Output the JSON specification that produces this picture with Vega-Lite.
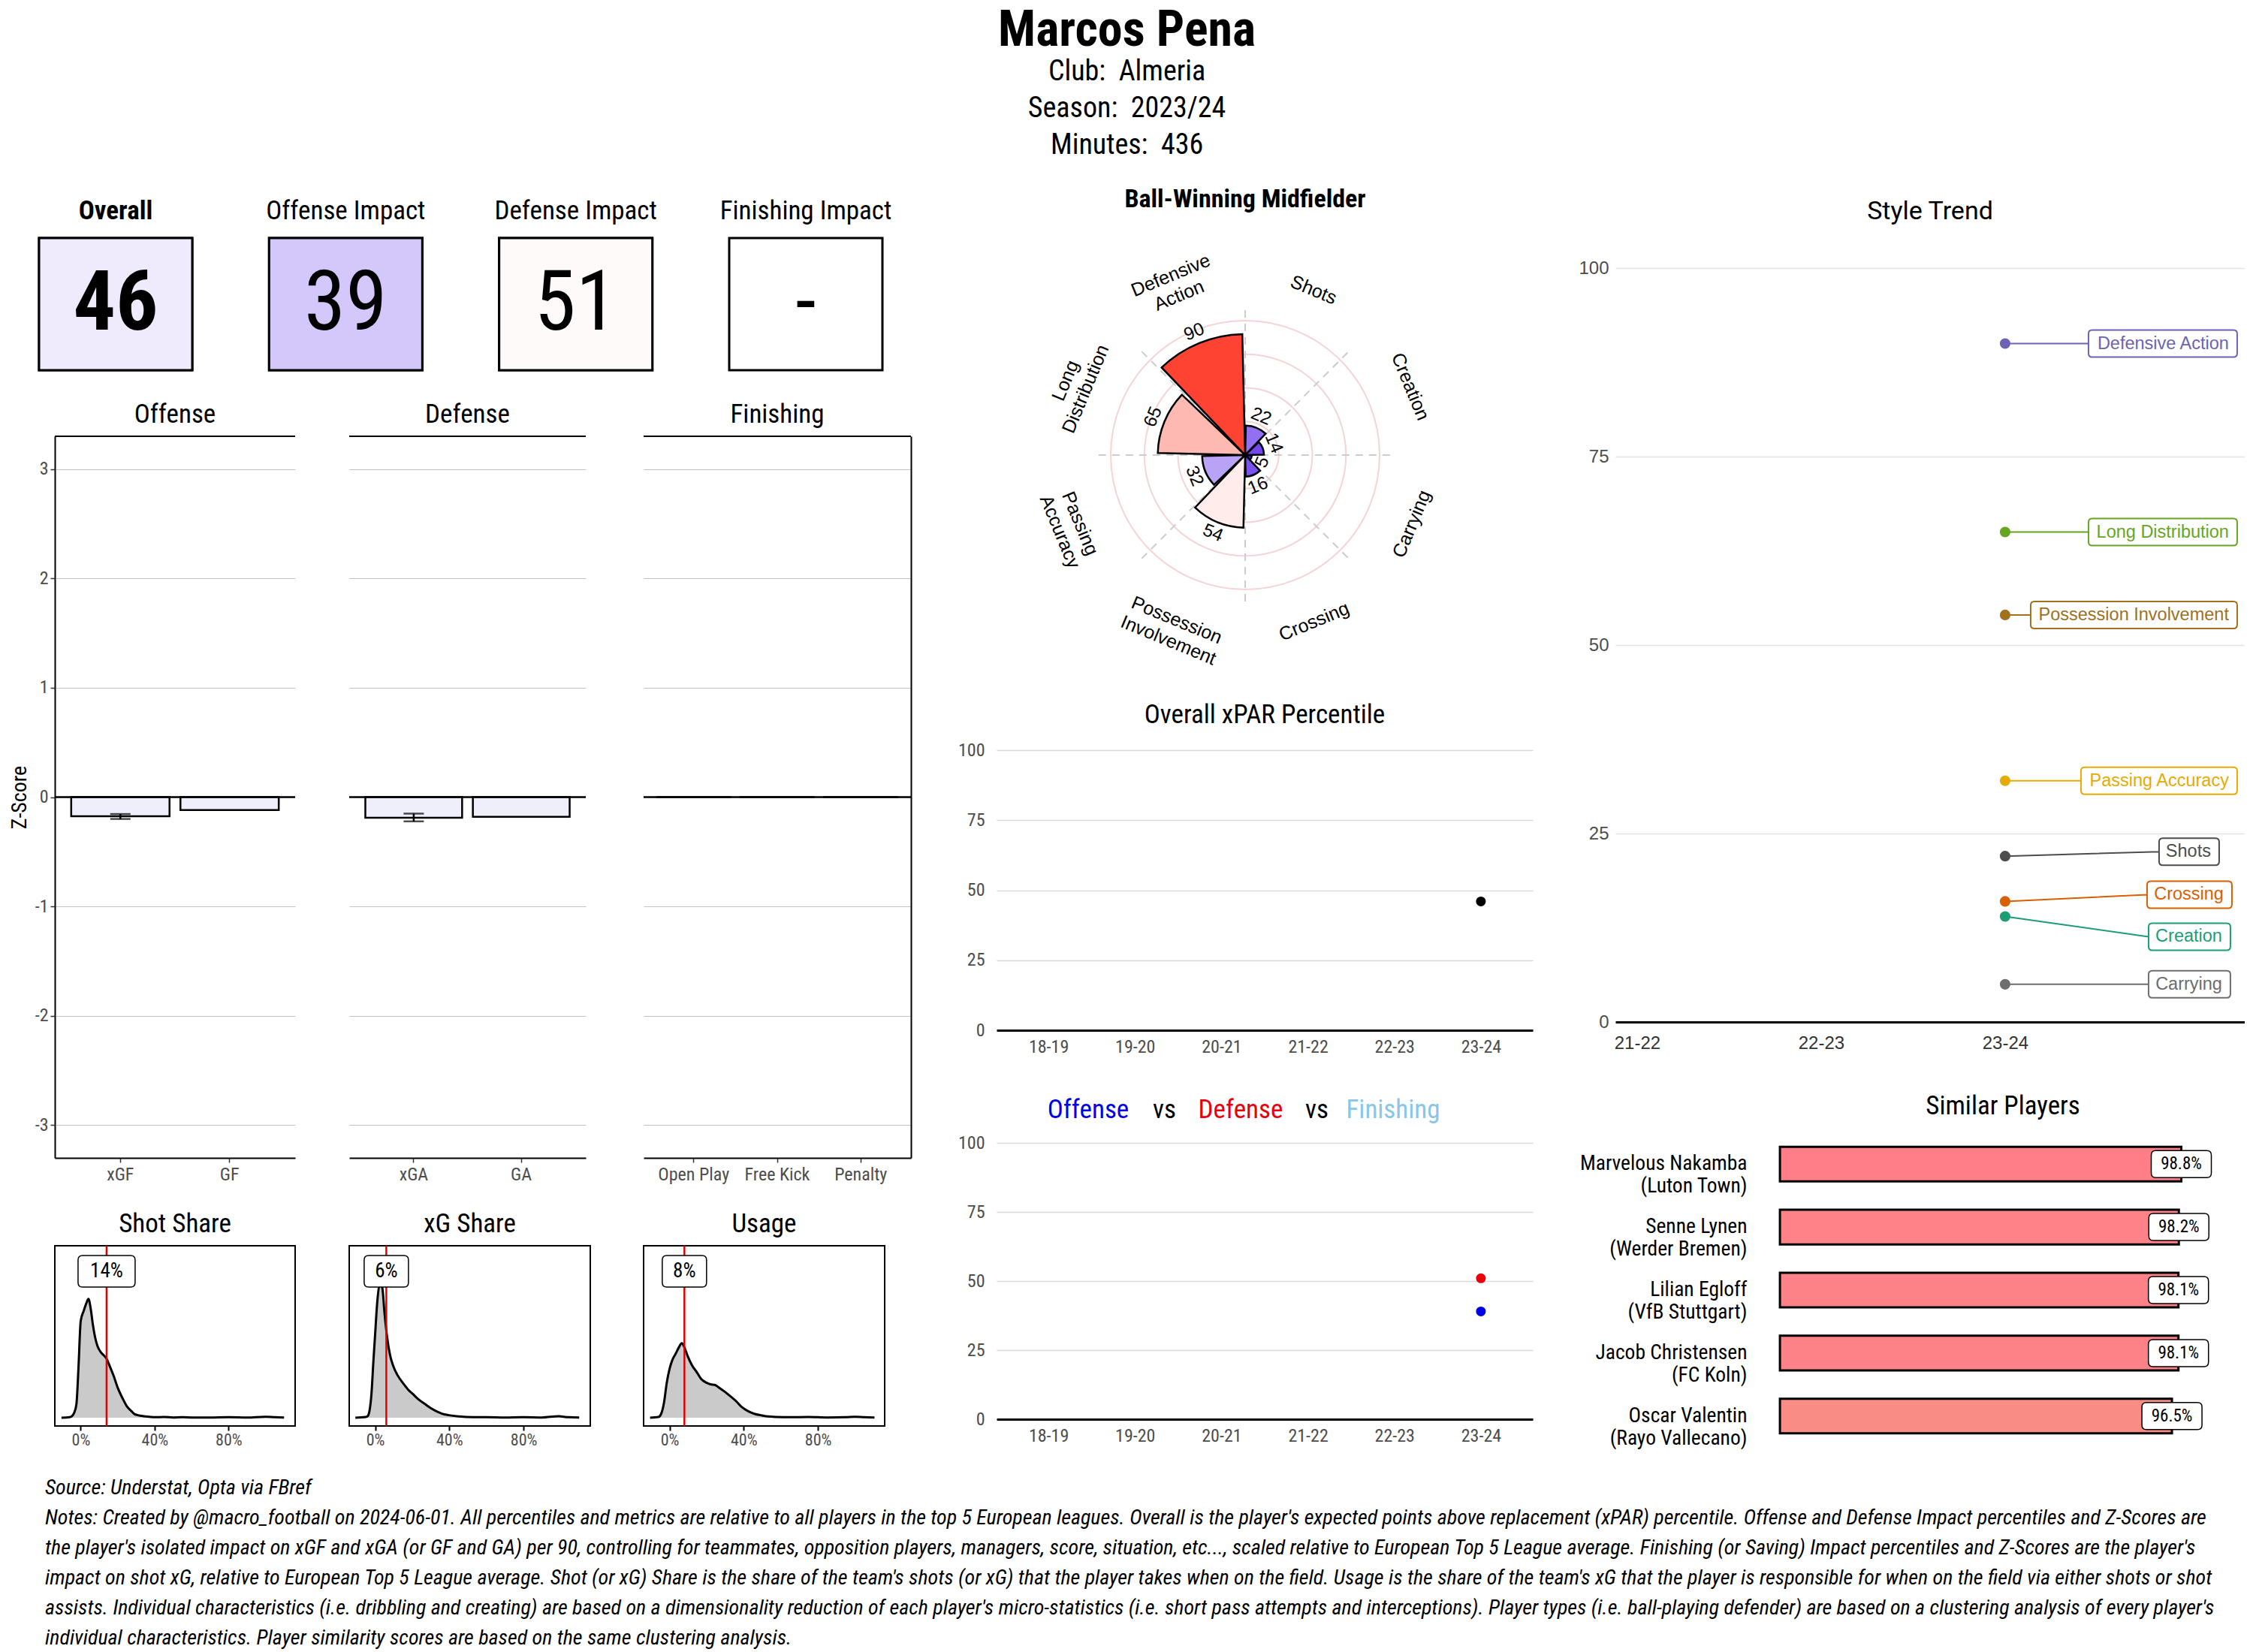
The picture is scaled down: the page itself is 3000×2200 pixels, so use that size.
{
"$schema": "https://vega.github.io/schema/vega-lite/v6.json",
"background": "white",
"padding": {"left": 12, "top": 8, "right": 0, "bottom": 0},
"config": {
  "view": {"stroke": null},
  "font": "Roboto Condensed, Roboto",
  "axis": {"labelFont": "Roboto Condensed, Roboto", "titleFont": "Roboto Condensed, Roboto", "labelColor": "#4d4d4d", "titleColor": "black", "titleFontWeight": "normal", "labelLimit": 0},
  "title": {"font": "Roboto Condensed, Roboto", "fontWeight": "normal", "color": "black", "subtitleFont": "Roboto Condensed, Roboto", "subtitleColor": "black"},
  "text": {"font": "Roboto Condensed, Roboto", "color": "black"}
},
"title": {"text": "Marcos Pena", "subtitle": ["Club:\u00a0 Almeria", "Season:\u00a0 2023/24", "Minutes:\u00a0 436"], "anchor": "middle", "fontSize": 66, "fontWeight": "bold", "subtitleFontSize": 38, "subtitleLineHeight": 49, "subtitlePadding": 2, "offset": 35},
"datasets": {
  "kpi": [
    {"metric": "Overall", "pct": 46, "display": "46"},
    {"metric": "Offense Impact", "pct": 39, "display": "39"},
    {"metric": "Defense Impact", "pct": 51, "display": "51"},
    {"metric": "Finishing Impact", "pct": null, "display": "-"}
  ],
  "zscore": [
    {"panel": "Offense", "stat": "xGF", "z": -0.175, "lo": -0.2, "hi": -0.155},
    {"panel": "Offense", "stat": "GF", "z": -0.118},
    {"panel": "Defense", "stat": "xGA", "z": -0.189, "lo": -0.222, "hi": -0.151},
    {"panel": "Defense", "stat": "GA", "z": -0.18},
    {"panel": "Finishing", "stat": "Open Play", "z": 0},
    {"panel": "Finishing", "stat": "Free Kick", "z": 0},
    {"panel": "Finishing", "stat": "Penalty", "z": 0}
  ],
  "density": [
    {"panel": "Shot Share", "x": -0.104, "d": 0}, {"panel": "Shot Share", "x": -0.06, "d": 2}, {"panel": "Shot Share", "x": -0.049, "d": 5}, {"panel": "Shot Share", "x": -0.035, "d": 20}, {"panel": "Shot Share", "x": -0.023, "d": 55}, {"panel": "Shot Share", "x": -0.012, "d": 200}, {"panel": "Shot Share", "x": 0, "d": 385}, {"panel": "Shot Share", "x": 0.016, "d": 425}, {"panel": "Shot Share", "x": 0.03, "d": 455}, {"panel": "Shot Share", "x": 0.042, "d": 473}, {"panel": "Shot Share", "x": 0.055, "d": 430}, {"panel": "Shot Share", "x": 0.065, "d": 375}, {"panel": "Shot Share", "x": 0.078, "d": 320}, {"panel": "Shot Share", "x": 0.091, "d": 285}, {"panel": "Shot Share", "x": 0.11, "d": 260}, {"panel": "Shot Share", "x": 0.125, "d": 248}, {"panel": "Shot Share", "x": 0.14, "d": 235}, {"panel": "Shot Share", "x": 0.16, "d": 200}, {"panel": "Shot Share", "x": 0.179, "d": 165}, {"panel": "Shot Share", "x": 0.2, "d": 120}, {"panel": "Shot Share", "x": 0.228, "d": 75}, {"panel": "Shot Share", "x": 0.25, "d": 45}, {"panel": "Shot Share", "x": 0.276, "d": 25}, {"panel": "Shot Share", "x": 0.29, "d": 15}, {"panel": "Shot Share", "x": 0.309, "d": 10}, {"panel": "Shot Share", "x": 0.34, "d": 6}, {"panel": "Shot Share", "x": 0.37, "d": 4}, {"panel": "Shot Share", "x": 0.4, "d": 2}, {"panel": "Shot Share", "x": 0.45, "d": 3}, {"panel": "Shot Share", "x": 0.5, "d": 1}, {"panel": "Shot Share", "x": 0.55, "d": 2}, {"panel": "Shot Share", "x": 0.6, "d": 1}, {"panel": "Shot Share", "x": 0.7, "d": 1}, {"panel": "Shot Share", "x": 0.8, "d": 2}, {"panel": "Shot Share", "x": 0.9, "d": 1}, {"panel": "Shot Share", "x": 1.0, "d": 4}, {"panel": "Shot Share", "x": 1.05, "d": 2}, {"panel": "Shot Share", "x": 1.1, "d": 1},
    {"panel": "xG Share", "x": -0.107, "d": 0}, {"panel": "xG Share", "x": -0.05, "d": 3}, {"panel": "xG Share", "x": -0.042, "d": 5}, {"panel": "xG Share", "x": -0.03, "d": 30}, {"panel": "xG Share", "x": -0.02, "d": 95}, {"panel": "xG Share", "x": -0.01, "d": 220}, {"panel": "xG Share", "x": 0, "d": 335}, {"panel": "xG Share", "x": 0.01, "d": 450}, {"panel": "xG Share", "x": 0.023, "d": 525}, {"panel": "xG Share", "x": 0.032, "d": 528}, {"panel": "xG Share", "x": 0.039, "d": 515}, {"panel": "xG Share", "x": 0.05, "d": 420}, {"panel": "xG Share", "x": 0.062, "d": 335}, {"panel": "xG Share", "x": 0.08, "d": 250}, {"panel": "xG Share", "x": 0.098, "d": 205}, {"panel": "xG Share", "x": 0.12, "d": 170}, {"panel": "xG Share", "x": 0.153, "d": 135}, {"panel": "xG Share", "x": 0.18, "d": 110}, {"panel": "xG Share", "x": 0.202, "d": 95}, {"panel": "xG Share", "x": 0.23, "d": 75}, {"panel": "xG Share", "x": 0.267, "d": 55}, {"panel": "xG Share", "x": 0.3, "d": 38}, {"panel": "xG Share", "x": 0.332, "d": 25}, {"panel": "xG Share", "x": 0.36, "d": 16}, {"panel": "xG Share", "x": 0.397, "d": 10}, {"panel": "xG Share", "x": 0.45, "d": 5}, {"panel": "xG Share", "x": 0.527, "d": 2}, {"panel": "xG Share", "x": 0.6, "d": 2}, {"panel": "xG Share", "x": 0.7, "d": 1}, {"panel": "xG Share", "x": 0.8, "d": 2}, {"panel": "xG Share", "x": 0.9, "d": 1}, {"panel": "xG Share", "x": 0.99, "d": 6}, {"panel": "xG Share", "x": 1.04, "d": 2}, {"panel": "xG Share", "x": 1.1, "d": 1},
    {"panel": "Usage", "x": -0.105, "d": 0}, {"panel": "Usage", "x": -0.06, "d": 3}, {"panel": "Usage", "x": -0.049, "d": 10}, {"panel": "Usage", "x": -0.03, "d": 60}, {"panel": "Usage", "x": -0.015, "d": 140}, {"panel": "Usage", "x": 0, "d": 195}, {"panel": "Usage", "x": 0.015, "d": 230}, {"panel": "Usage", "x": 0.033, "d": 255}, {"panel": "Usage", "x": 0.05, "d": 280}, {"panel": "Usage", "x": 0.066, "d": 297}, {"panel": "Usage", "x": 0.08, "d": 280}, {"panel": "Usage", "x": 0.098, "d": 245}, {"panel": "Usage", "x": 0.12, "d": 210}, {"panel": "Usage", "x": 0.148, "d": 180}, {"panel": "Usage", "x": 0.17, "d": 155}, {"panel": "Usage", "x": 0.197, "d": 140}, {"panel": "Usage", "x": 0.22, "d": 133}, {"panel": "Usage", "x": 0.246, "d": 130}, {"panel": "Usage", "x": 0.27, "d": 118}, {"panel": "Usage", "x": 0.295, "d": 105}, {"panel": "Usage", "x": 0.32, "d": 90}, {"panel": "Usage", "x": 0.36, "d": 65}, {"panel": "Usage", "x": 0.39, "d": 42}, {"panel": "Usage", "x": 0.426, "d": 25}, {"panel": "Usage", "x": 0.46, "d": 15}, {"panel": "Usage", "x": 0.492, "d": 10}, {"panel": "Usage", "x": 0.53, "d": 5}, {"panel": "Usage", "x": 0.574, "d": 3}, {"panel": "Usage", "x": 0.65, "d": 2}, {"panel": "Usage", "x": 0.75, "d": 3}, {"panel": "Usage", "x": 0.85, "d": 1}, {"panel": "Usage", "x": 0.95, "d": 2}, {"panel": "Usage", "x": 1.0, "d": 4}, {"panel": "Usage", "x": 1.05, "d": 2}, {"panel": "Usage", "x": 1.105, "d": 1}
  ],
  "shares": [
    {"panel": "Shot Share", "value": 0.14, "label": "14%"},
    {"panel": "xG Share", "value": 0.06, "label": "6%"},
    {"panel": "Usage", "value": 0.08, "label": "8%"}
  ],
  "style": [
    {"metric": "Shots", "value": 22, "label": "Shots", "season": "23-24"},
    {"metric": "Creation", "value": 14, "label": "Creation", "season": "23-24"},
    {"metric": "Carrying", "value": 5, "label": "Carrying", "season": "23-24"},
    {"metric": "Crossing", "value": 16, "label": "Crossing", "season": "23-24"},
    {"metric": "Possession Involvement", "value": 54, "label": "Possession\nInvolvement", "season": "23-24"},
    {"metric": "Passing Accuracy", "value": 32, "label": "Passing\nAccuracy", "season": "23-24"},
    {"metric": "Long Distribution", "value": 65, "label": "Long\nDistribution", "season": "23-24"},
    {"metric": "Defensive Action", "value": 90, "label": "Defensive\nAction", "season": "23-24"}
  ],
  "xpar": [{"season": "23-24", "pct": 46}],
  "ovd": [{"season": "23-24", "metric": "Offense", "pct": 39}, {"season": "23-24", "metric": "Defense", "pct": 51}],
  "titlewords": [{"word": "Offense"}, {"word": "vs"}, {"word": "Defense"}, {"word": "vs "}, {"word": "Finishing"}],
  "similar": [
    {"name": "Marvelous Nakamba|(Luton Town)", "sim": 0.988},
    {"name": "Senne Lynen|(Werder Bremen)", "sim": 0.982},
    {"name": "Lilian Egloff|(VfB Stuttgart)", "sim": 0.981},
    {"name": "Jacob Christensen|(FC Koln)", "sim": 0.981},
    {"name": "Oscar Valentin|(Rayo Vallecano)", "sim": 0.965}
  ],
  "notes": [
    {"line": "Source: Understat, Opta via FBref"},
    {"line": "Notes: Created by @macro_football on 2024-06-01. All percentiles and metrics are relative to all players in the top 5 European leagues. Overall is the player's expected points above replacement (xPAR) percentile. Offense and Defense Impact percentiles and Z-Scores are"},
    {"line": "the player's isolated impact on xGF and xGA (or GF and GA) per 90, controlling for teammates, opposition players, managers, score, situation, etc..., scaled relative to European Top 5 League average. Finishing (or Saving) Impact percentiles and Z-Scores are the player's"},
    {"line": "impact on shot xG, relative to European Top 5 League average. Shot (or xG) Share is the share of the team's shots (or xG) that the player takes when on the field. Usage is the share of the team's xG that the player is responsible for when on the field via either shots or shot"},
    {"line": "assists. Individual characteristics (i.e. dribbling and creating) are based on a dimensionality reduction of each player's micro-statistics (i.e. short pass attempts and interceptions). Player types (i.e. ball-playing defender) are based on a clustering analysis of every player's"},
    {"line": "individual characteristics. Player similarity scores are based on the same clustering analysis."}
  ]
},
"vconcat": [
{
"hconcat": [
{
  "vconcat": [
    {
      "width": 1131, "height": 176,
      "data": {"name": "kpi"},
      "encoding": {"x": {"field": "metric", "type": "nominal", "scale": {"domain": ["Overall", "Offense Impact", "Defense Impact", "Finishing Impact"], "range": [-21, 1102], "paddingInner": 0.334, "paddingOuter": 0}, "axis": {"orient": "top", "title": null, "ticks": false, "domain": false, "labelAngle": 0, "labelFontSize": 35, "labelColor": "black", "labelPadding": 19, "labelFontWeight": {"expr": "datum.value == 'Overall' ? 'bold' : 'normal'"}}}},
      "layer": [
        {"mark": {"type": "rect", "fill": "white", "stroke": "black", "strokeWidth": 3}, "encoding": {"y": {"datum": 0, "type": "quantitative", "scale": {"domain": [0, 1], "nice": false}, "axis": null}, "y2": {"datum": 1}}},
        {"transform": [{"filter": "isValid(datum.pct)"}], "mark": {"type": "rect", "stroke": "black", "strokeWidth": 3}, "encoding": {"y": {"datum": 0, "type": "quantitative"}, "y2": {"datum": 1}, "color": {"field": "pct", "type": "quantitative", "scale": {"domain": [0, 50, 100], "range": ["#3c00e6", "#ffffff", "#ff1400"], "interpolate": "rgb"}, "legend": null}}},
        {"transform": [{"filter": "datum.metric == 'Overall'"}], "mark": {"type": "text", "fontSize": 112, "fontWeight": "bold"}, "encoding": {"y": {"datum": 0.5, "type": "quantitative"}, "text": {"field": "display"}}},
        {"transform": [{"filter": "datum.metric != 'Overall'"}], "mark": {"type": "text", "fontSize": 112}, "encoding": {"y": {"datum": 0.5, "type": "quantitative"}, "text": {"field": "display"}}}
      ]
    },
    {
      "concat": [
        {
          "width": 320, "height": 961,
          "title": {"text": "Offense", "fontSize": 35, "offset": 10},
          "layer": [
            {"data": {"name": "zscore"}, "transform": [{"filter": "datum.panel == 'Offense'"}], "mark": {"type": "bar", "fill": "#efeffc", "stroke": "black", "strokeWidth": 2.5},
             "encoding": {"x": {"field": "stat", "type": "nominal", "scale": {"domain": ["xGF", "GF"], "paddingInner": 0.1, "paddingOuter": 0.15}, "axis": {"title": null, "labelAngle": 0, "labelFontSize": 24, "domainColor": "black", "domainWidth": 2, "tickColor": "#333333", "tickSize": 6, "tickWidth": 1.5, "labelPadding": 4}},
                          "y": {"field": "z", "type": "quantitative", "scale": {"domain": [-3.3, 3.3], "nice": false}, "axis": {"values": [-3, -2, -1, 0, 1, 2, 3], "labelExpr": "toString(datum.value)", "title": "Z-Score", "titleFontSize": 28, "titlePadding": 6, "labelFontSize": 24, "labelPadding": 3, "grid": true, "gridColor": "#c2c2c2", "gridWidth": 1.2, "domainColor": "black", "domainWidth": 2, "tickColor": "#333333", "tickSize": 6, "tickWidth": 1.5}}}},
            {"data": {"name": "zscore"}, "transform": [{"filter": "datum.panel == 'Offense' && isValid(datum.lo)"}], "mark": {"type": "rule", "color": "black", "strokeWidth": 2.5}, "encoding": {"x": {"field": "stat", "type": "nominal"}, "y": {"field": "lo", "type": "quantitative"}, "y2": {"field": "hi"}}},
            {"data": {"name": "zscore"}, "transform": [{"filter": "datum.panel == 'Offense' && isValid(datum.lo)"}], "mark": {"type": "tick", "color": "black", "thickness": 2.5, "size": 27}, "encoding": {"x": {"field": "stat", "type": "nominal"}, "y": {"field": "lo", "type": "quantitative"}}},
            {"data": {"name": "zscore"}, "transform": [{"filter": "datum.panel == 'Offense' && isValid(datum.lo)"}], "mark": {"type": "tick", "color": "black", "thickness": 2.5, "size": 27}, "encoding": {"x": {"field": "stat", "type": "nominal"}, "y": {"field": "hi", "type": "quantitative"}}},
            {"data": {"values": [{}]}, "mark": {"type": "rule", "color": "black", "strokeWidth": 2.5}, "encoding": {"y": {"datum": 0, "type": "quantitative"}}},
            {"data": {"values": [{}]}, "mark": {"type": "rule", "color": "black", "strokeWidth": 2}, "encoding": {"y": {"datum": 3.3, "type": "quantitative"}}}
          ]
        },
        {
          "width": 315, "height": 961,
          "title": {"text": "Defense", "fontSize": 35, "offset": 10},
          "layer": [
            {"data": {"name": "zscore"}, "transform": [{"filter": "datum.panel == 'Defense'"}], "mark": {"type": "bar", "fill": "#efeffc", "stroke": "black", "strokeWidth": 2.5},
             "encoding": {"x": {"field": "stat", "type": "nominal", "scale": {"domain": ["xGA", "GA"], "paddingInner": 0.1, "paddingOuter": 0.15}, "axis": {"title": null, "labelAngle": 0, "labelFontSize": 24, "domainColor": "black", "domainWidth": 2, "tickColor": "#333333", "tickSize": 6, "tickWidth": 1.5, "labelPadding": 4}},
                          "y": {"field": "z", "type": "quantitative", "scale": {"domain": [-3.3, 3.3], "nice": false}, "axis": {"values": [-3, -2, -1, 0, 1, 2, 3], "title": null, "labels": false, "ticks": false, "domain": false, "grid": true, "gridColor": "#c2c2c2", "gridWidth": 1.2}}}},
            {"data": {"name": "zscore"}, "transform": [{"filter": "datum.panel == 'Defense' && isValid(datum.lo)"}], "mark": {"type": "rule", "color": "black", "strokeWidth": 2.5}, "encoding": {"x": {"field": "stat", "type": "nominal"}, "y": {"field": "lo", "type": "quantitative"}, "y2": {"field": "hi"}}},
            {"data": {"name": "zscore"}, "transform": [{"filter": "datum.panel == 'Defense' && isValid(datum.lo)"}], "mark": {"type": "tick", "color": "black", "thickness": 2.5, "size": 27}, "encoding": {"x": {"field": "stat", "type": "nominal"}, "y": {"field": "lo", "type": "quantitative"}}},
            {"data": {"name": "zscore"}, "transform": [{"filter": "datum.panel == 'Defense' && isValid(datum.lo)"}], "mark": {"type": "tick", "color": "black", "thickness": 2.5, "size": 27}, "encoding": {"x": {"field": "stat", "type": "nominal"}, "y": {"field": "hi", "type": "quantitative"}}},
            {"data": {"values": [{}]}, "mark": {"type": "rule", "color": "black", "strokeWidth": 2.5}, "encoding": {"y": {"datum": 0, "type": "quantitative"}}},
            {"data": {"values": [{}]}, "mark": {"type": "rule", "color": "black", "strokeWidth": 2}, "encoding": {"y": {"datum": 3.3, "type": "quantitative"}}}
          ]
        },
        {
          "width": 356, "height": 961,
          "title": {"text": "Finishing", "fontSize": 35, "offset": 10},
          "layer": [
            {"data": {"name": "zscore"}, "transform": [{"filter": "datum.panel == 'Finishing'"}], "mark": {"type": "bar", "fill": "#efeffc", "stroke": "black", "strokeWidth": 2.5},
             "encoding": {"x": {"field": "stat", "type": "nominal", "scale": {"domain": ["Open Play", "Free Kick", "Penalty"], "paddingInner": 0.1, "paddingOuter": 0.15}, "axis": {"title": null, "labelAngle": 0, "labelFontSize": 24, "domainColor": "black", "domainWidth": 2, "tickColor": "#333333", "tickSize": 6, "tickWidth": 1.5, "labelPadding": 4}},
                          "y": {"field": "z", "type": "quantitative", "scale": {"domain": [-3.3, 3.3], "nice": false}, "axis": {"values": [-3, -2, -1, 0, 1, 2, 3], "orient": "right", "title": null, "labels": false, "ticks": false, "domain": true, "domainColor": "black", "domainWidth": 2, "grid": true, "gridColor": "#c2c2c2", "gridWidth": 1.2}}}},
            {"data": {"values": [{}]}, "mark": {"type": "rule", "color": "black", "strokeWidth": 2.5}, "encoding": {"y": {"datum": 0, "type": "quantitative"}}},
            {"data": {"values": [{}]}, "mark": {"type": "rule", "color": "black", "strokeWidth": 2}, "encoding": {"y": {"datum": 3.3, "type": "quantitative"}}}
          ]
        },
        {
          "width": 320, "height": 240,
          "title": {"text": "Shot Share", "fontSize": 35, "offset": 10},
          "view": {"stroke": "black", "strokeWidth": 2},
          "layer": [
            {"data": {"name": "density"}, "transform": [{"filter": "datum.panel == 'Shot Share'"}], "mark": {"type": "area", "fill": "#b3b3b3", "interpolate": "monotone", "line": {"color": "black", "strokeWidth": 3}},
             "encoding": {"x": {"field": "x", "type": "quantitative", "scale": {"domain": [-0.14, 1.16], "nice": false}, "axis": {"values": [0, 0.4, 0.8], "format": ".0%", "title": null, "labelFontSize": 22, "grid": false, "domain": false, "tickColor": "black", "tickSize": 6, "tickWidth": 2}},
                          "y": {"field": "d", "type": "quantitative", "scale": {"domain": [-33, 685], "nice": false}, "axis": null}}},
            {"data": {"name": "shares"}, "transform": [{"filter": "datum.panel == 'Shot Share'"}], "mark": {"type": "rule", "color": "#e00000", "strokeWidth": 2.5}, "encoding": {"x": {"field": "value", "type": "quantitative"}}},
            {"data": {"name": "shares"}, "transform": [{"filter": "datum.panel == 'Shot Share'"}], "mark": {"type": "point", "shape": "M-0.64,-0.42H0.64Q0.76,-0.42 0.76,-0.3V0.3Q0.76,0.42 0.64,0.42H-0.64Q-0.76,0.42 -0.76,0.3V-0.3Q-0.76,-0.42 -0.64,-0.42Z", "size": 10000, "filled": true, "fill": "white", "stroke": "black", "strokeWidth": 1.5, "opacity": 1}, "encoding": {"x": {"field": "value", "type": "quantitative"}, "y": {"datum": 583, "type": "quantitative"}}},
            {"data": {"name": "shares"}, "transform": [{"filter": "datum.panel == 'Shot Share'"}], "mark": {"type": "text", "fontSize": 27}, "encoding": {"x": {"field": "value", "type": "quantitative"}, "y": {"datum": 583, "type": "quantitative"}, "text": {"field": "label"}}}
          ]
        },
        {
          "width": 321, "height": 240,
          "title": {"text": "xG Share", "fontSize": 35, "offset": 10},
          "view": {"stroke": "black", "strokeWidth": 2},
          "layer": [
            {"data": {"name": "density"}, "transform": [{"filter": "datum.panel == 'xG Share'"}], "mark": {"type": "area", "fill": "#b3b3b3", "interpolate": "monotone", "line": {"color": "black", "strokeWidth": 3}},
             "encoding": {"x": {"field": "x", "type": "quantitative", "scale": {"domain": [-0.14, 1.16], "nice": false}, "axis": {"values": [0, 0.4, 0.8], "format": ".0%", "title": null, "labelFontSize": 22, "grid": false, "domain": false, "tickColor": "black", "tickSize": 6, "tickWidth": 2}},
                          "y": {"field": "d", "type": "quantitative", "scale": {"domain": [-33, 685], "nice": false}, "axis": null}}},
            {"data": {"name": "shares"}, "transform": [{"filter": "datum.panel == 'xG Share'"}], "mark": {"type": "rule", "color": "#e00000", "strokeWidth": 2.5}, "encoding": {"x": {"field": "value", "type": "quantitative"}}},
            {"data": {"name": "shares"}, "transform": [{"filter": "datum.panel == 'xG Share'"}], "mark": {"type": "point", "shape": "M-0.47,-0.42H0.47Q0.59,-0.42 0.59,-0.3V0.3Q0.59,0.42 0.47,0.42H-0.47Q-0.59,0.42 -0.59,0.3V-0.3Q-0.59,-0.42 -0.47,-0.42Z", "size": 10000, "filled": true, "fill": "white", "stroke": "black", "strokeWidth": 1.5, "opacity": 1}, "encoding": {"x": {"field": "value", "type": "quantitative"}, "y": {"datum": 583, "type": "quantitative"}}},
            {"data": {"name": "shares"}, "transform": [{"filter": "datum.panel == 'xG Share'"}], "mark": {"type": "text", "fontSize": 27}, "encoding": {"x": {"field": "value", "type": "quantitative"}, "y": {"datum": 583, "type": "quantitative"}, "text": {"field": "label"}}}
          ]
        },
        {
          "width": 321, "height": 240,
          "title": {"text": "Usage", "fontSize": 35, "offset": 10},
          "view": {"stroke": "black", "strokeWidth": 2},
          "layer": [
            {"data": {"name": "density"}, "transform": [{"filter": "datum.panel == 'Usage'"}], "mark": {"type": "area", "fill": "#b3b3b3", "interpolate": "monotone", "line": {"color": "black", "strokeWidth": 3}},
             "encoding": {"x": {"field": "x", "type": "quantitative", "scale": {"domain": [-0.14, 1.16], "nice": false}, "axis": {"values": [0, 0.4, 0.8], "format": ".0%", "title": null, "labelFontSize": 22, "grid": false, "domain": false, "tickColor": "black", "tickSize": 6, "tickWidth": 2}},
                          "y": {"field": "d", "type": "quantitative", "scale": {"domain": [-33, 685], "nice": false}, "axis": null}}},
            {"data": {"name": "shares"}, "transform": [{"filter": "datum.panel == 'Usage'"}], "mark": {"type": "rule", "color": "#e00000", "strokeWidth": 2.5}, "encoding": {"x": {"field": "value", "type": "quantitative"}}},
            {"data": {"name": "shares"}, "transform": [{"filter": "datum.panel == 'Usage'"}], "mark": {"type": "point", "shape": "M-0.47,-0.42H0.47Q0.59,-0.42 0.59,-0.3V0.3Q0.59,0.42 0.47,0.42H-0.47Q-0.59,0.42 -0.59,0.3V-0.3Q-0.59,-0.42 -0.47,-0.42Z", "size": 10000, "filled": true, "fill": "white", "stroke": "black", "strokeWidth": 1.5, "opacity": 1}, "encoding": {"x": {"field": "value", "type": "quantitative"}, "y": {"datum": 583, "type": "quantitative"}}},
            {"data": {"name": "shares"}, "transform": [{"filter": "datum.panel == 'Usage'"}], "mark": {"type": "text", "fontSize": 27}, "encoding": {"x": {"field": "value", "type": "quantitative"}, "y": {"datum": 583, "type": "quantitative"}, "text": {"field": "label"}}}
          ]
        }
      ],
      "columns": 3,
      "align": "each",
      "spacing": {"row": 35, "column": 68}
    }
  ],
  "spacing": 40
},
{
  "vconcat": [
    {
      "width": 662, "height": 578,
      "title": {"text": "Ball-Winning Midfielder", "fontSize": 34, "fontWeight": "bold", "offset": 34},
      "layer": [
        {"data": {"values": [{}]}, "mark": {"type": "arc", "theta": 0, "theta2": 6.2832, "filled": false, "stroke": "#f4d4d4", "strokeWidth": 2}, "encoding": {"radius": {"datum": 25, "type": "quantitative"}}},
        {"data": {"values": [{}]}, "mark": {"type": "arc", "theta": 0, "theta2": 6.2832, "filled": false, "stroke": "#f4d4d4", "strokeWidth": 2}, "encoding": {"radius": {"datum": 50, "type": "quantitative"}}},
        {"data": {"values": [{}]}, "mark": {"type": "arc", "theta": 0, "theta2": 6.2832, "filled": false, "stroke": "#f4d4d4", "strokeWidth": 2}, "encoding": {"radius": {"datum": 75, "type": "quantitative"}}},
        {"data": {"values": [{}]}, "mark": {"type": "arc", "theta": 0, "theta2": 6.2832, "filled": false, "stroke": "#f4d4d4", "strokeWidth": 2}, "encoding": {"radius": {"datum": 100, "type": "quantitative"}}},
        {"data": {"values": [{}]}, "mark": {"type": "rule", "stroke": "#cccccc", "strokeWidth": 2, "strokeDash": [10, 8]}, "encoding": {"x": {"datum": 0, "type": "quantitative", "scale": {"domain": [-1.849, 1.849], "nice": false}, "axis": null}, "y": {"datum": -1.09, "type": "quantitative", "scale": {"domain": [-1.6145, 1.6145], "nice": false}, "axis": null}, "y2": {"datum": 1.09}}},
        {"data": {"values": [{}]}, "mark": {"type": "rule", "stroke": "#cccccc", "strokeWidth": 2, "strokeDash": [10, 8]}, "encoding": {"x": {"datum": -1.09, "type": "quantitative"}, "x2": {"datum": 1.09}, "y": {"datum": 0, "type": "quantitative"}}},
        {"data": {"values": [{}]}, "mark": {"type": "rule", "stroke": "#cccccc", "strokeWidth": 2, "strokeDash": [10, 8]}, "encoding": {"x": {"datum": -0.77, "type": "quantitative"}, "x2": {"datum": 0.77}, "y": {"datum": -0.77, "type": "quantitative"}, "y2": {"datum": 0.77}}},
        {"data": {"values": [{}]}, "mark": {"type": "rule", "stroke": "#cccccc", "strokeWidth": 2, "strokeDash": [10, 8]}, "encoding": {"x": {"datum": -0.77, "type": "quantitative"}, "x2": {"datum": 0.77}, "y": {"datum": 0.77, "type": "quantitative"}, "y2": {"datum": -0.77}}},
        {"data": {"name": "style"}, "mark": {"type": "arc", "stroke": "black", "strokeWidth": 2.5},
         "encoding": {"theta": {"field": "metric", "type": "nominal", "scale": {"type": "band", "domain": ["Shots", "Creation", "Carrying", "Crossing", "Possession Involvement", "Passing Accuracy", "Long Distribution", "Defensive Action"], "range": [0, 6.283185], "paddingInner": 0.06, "paddingOuter": 0.03}},
                      "radius": {"field": "value", "type": "quantitative", "scale": {"type": "linear", "domain": [0, 100], "range": [0, 179], "zero": true, "nice": false}},
                      "fill": {"field": "value", "type": "quantitative", "scale": {"domain": [0, 50, 100], "range": ["#3c00e6", "#ffffff", "#ff1400"], "interpolate": "rgb"}, "legend": null}}},
        {"data": {"name": "style"}, "transform": [{"filter": "datum.metric == 'Shots' || datum.metric == 'Possession Involvement'"}], "mark": {"type": "text", "angle": 22.5, "radiusOffset": 16, "font": "Liberation Sans", "fontSize": 24}, "encoding": {"theta": {"field": "metric", "type": "nominal"}, "radius": {"field": "value", "type": "quantitative"}, "text": {"field": "value"}}},
        {"data": {"name": "style"}, "transform": [{"filter": "datum.metric == 'Creation' || datum.metric == 'Passing Accuracy'"}], "mark": {"type": "text", "angle": 67.5, "radiusOffset": 16, "font": "Liberation Sans", "fontSize": 24}, "encoding": {"theta": {"field": "metric", "type": "nominal"}, "radius": {"field": "value", "type": "quantitative"}, "text": {"field": "value"}}},
        {"data": {"name": "style"}, "transform": [{"filter": "datum.metric == 'Carrying' || datum.metric == 'Long Distribution'"}], "mark": {"type": "text", "angle": -67.5, "radiusOffset": 16, "font": "Liberation Sans", "fontSize": 24}, "encoding": {"theta": {"field": "metric", "type": "nominal"}, "radius": {"field": "value", "type": "quantitative"}, "text": {"field": "value"}}},
        {"data": {"name": "style"}, "transform": [{"filter": "datum.metric == 'Crossing' || datum.metric == 'Defensive Action'"}], "mark": {"type": "text", "angle": -22.5, "radiusOffset": 16, "font": "Liberation Sans", "fontSize": 24}, "encoding": {"theta": {"field": "metric", "type": "nominal"}, "radius": {"field": "value", "type": "quantitative"}, "text": {"field": "value"}}},
        {"data": {"name": "style"}, "transform": [{"filter": "datum.metric == 'Shots' || datum.metric == 'Possession Involvement'"}], "mark": {"type": "text", "angle": 22.5, "radiusOffset": 59, "font": "Liberation Sans", "fontSize": 25, "lineBreak": "\n", "lineHeight": 29}, "encoding": {"theta": {"field": "metric", "type": "nominal"}, "radius": {"datum": 100, "type": "quantitative"}, "text": {"field": "label"}}},
        {"data": {"name": "style"}, "transform": [{"filter": "datum.metric == 'Creation' || datum.metric == 'Passing Accuracy'"}], "mark": {"type": "text", "angle": 67.5, "radiusOffset": 59, "font": "Liberation Sans", "fontSize": 25, "lineBreak": "\n", "lineHeight": 29}, "encoding": {"theta": {"field": "metric", "type": "nominal"}, "radius": {"datum": 100, "type": "quantitative"}, "text": {"field": "label"}}},
        {"data": {"name": "style"}, "transform": [{"filter": "datum.metric == 'Carrying'"}], "mark": {"type": "text", "angle": -67.5, "radiusOffset": 61, "font": "Liberation Sans", "fontSize": 25}, "encoding": {"theta": {"field": "metric", "type": "nominal"}, "radius": {"datum": 100, "type": "quantitative"}, "text": {"field": "label"}}},
        {"data": {"name": "style"}, "transform": [{"filter": "datum.metric == 'Long Distribution'"}], "mark": {"type": "text", "angle": -67.5, "radiusOffset": 80, "font": "Liberation Sans", "fontSize": 25, "lineBreak": "\n", "lineHeight": 29}, "encoding": {"theta": {"field": "metric", "type": "nominal"}, "radius": {"datum": 100, "type": "quantitative"}, "text": {"field": "label"}}},
        {"data": {"name": "style"}, "transform": [{"filter": "datum.metric == 'Crossing'"}], "mark": {"type": "text", "angle": -22.5, "radiusOffset": 61, "font": "Liberation Sans", "fontSize": 25}, "encoding": {"theta": {"field": "metric", "type": "nominal"}, "radius": {"datum": 100, "type": "quantitative"}, "text": {"field": "label"}}},
        {"data": {"name": "style"}, "transform": [{"filter": "datum.metric == 'Defensive Action'"}], "mark": {"type": "text", "angle": -22.5, "radiusOffset": 80, "font": "Liberation Sans", "fontSize": 25, "lineBreak": "\n", "lineHeight": 29}, "encoding": {"theta": {"field": "metric", "type": "nominal"}, "radius": {"datum": 100, "type": "quantitative"}, "text": {"field": "label"}}}
      ]
    },
    {
      "vconcat": [
        {
          "width": 714, "height": 373,
          "title": {"text": "Overall xPAR Percentile", "fontSize": 35, "offset": 17},
          "data": {"name": "xpar"},
          "mark": {"type": "point", "filled": true, "size": 170, "color": "black", "opacity": 1},
          "encoding": {
            "x": {"field": "season", "type": "ordinal", "scale": {"type": "point", "domain": ["18-19", "19-20", "20-21", "21-22", "22-23", "23-24"], "padding": 0.6}, "axis": {"title": null, "labelAngle": 0, "labelFontSize": 24, "ticks": false, "domainColor": "black", "domainWidth": 3, "labelPadding": 10}},
            "y": {"field": "pct", "type": "quantitative", "scale": {"domain": [0, 100], "nice": false}, "axis": {"title": null, "values": [0, 25, 50, 75, 100], "labelFontSize": 24, "ticks": false, "domain": false, "grid": true, "gridColor": "#d9d9d9", "gridWidth": 1.5, "labelPadding": 16}}
          }
        },
        {
          "width": 714, "height": 368,
          "layer": [
            {"data": {"name": "ovd"}, "mark": {"type": "point", "filled": true, "size": 170, "opacity": 1},
             "encoding": {
               "x": {"field": "season", "type": "ordinal", "scale": {"type": "point", "domain": ["18-19", "19-20", "20-21", "21-22", "22-23", "23-24"], "padding": 0.6}, "axis": {"title": null, "labelAngle": 0, "labelFontSize": 24, "ticks": false, "domainColor": "black", "domainWidth": 3, "labelPadding": 10}},
               "y": {"field": "pct", "type": "quantitative", "scale": {"domain": [0, 100], "nice": false}, "axis": {"title": null, "values": [0, 25, 50, 75, 100], "labelFontSize": 24, "ticks": false, "domain": false, "grid": true, "gridColor": "#d9d9d9", "gridWidth": 1.5, "labelPadding": 16}},
               "color": {"field": "metric", "type": "nominal", "scale": {"domain": ["Offense", "vs", "Defense", "vs ", "Finishing"], "range": ["#0000e6", "#000000", "#e8000b", "#000000", "#88c6e8"]}, "legend": null}
             }},
            {"data": {"name": "titlewords"}, "mark": {"type": "text", "fontSize": 35},
             "encoding": {
               "x": {"field": "word", "type": "nominal", "scale": {"type": "point", "domain": ["Offense", "vs", "Defense", "vs ", "Finishing"], "range": [122, 528], "padding": 0}, "axis": null},
               "y": {"datum": 111.9, "type": "quantitative"},
               "text": {"field": "word"},
               "color": {"field": "word", "type": "nominal"}
             }}
          ],
          "resolve": {"scale": {"x": "independent"}}
        }
      ],
      "spacing": 55
    }
  ],
  "spacing": 40
},
{
  "vconcat": [
    {
      "width": 838, "height": 1044,
      "title": {"text": "Style Trend", "font": "Roboto", "fontSize": 34, "offset": 18},
      "data": {"name": "style"},
      "encoding": {
        "x": {"field": "season", "type": "ordinal", "scale": {"type": "point", "domain": ["21-22", "22-23", "23-24"], "padding": 0.71, "align": 0.083}, "axis": {"title": null, "labelAngle": 0, "labelFont": "Liberation Sans", "labelFontSize": 24, "labelColor": "#333333", "ticks": false, "domainColor": "black", "domainWidth": 3, "labelPadding": 16}},
        "y": {"field": "value", "type": "quantitative", "scale": {"domain": [0, 104], "nice": false}, "axis": {"title": null, "values": [0, 25, 50, 75, 100], "labelFont": "Liberation Sans", "labelFontSize": 24, "labelColor": "#4d4d4d", "ticks": false, "domain": false, "grid": true, "gridColor": "#e3e3e3", "gridWidth": 1.5, "labelPadding": 9}}
      },
      "layer": [
        {"mark": {"type": "point", "size": 40000, "filled": true, "fill": "white", "strokeWidth": 2, "opacity": 1},
         "encoding": {
           "shape": {"field": "metric", "type": "nominal", "scale": {"domain": ["Defensive Action", "Long Distribution", "Possession Involvement", "Passing Accuracy", "Shots", "Crossing", "Creation", "Carrying"], "range": [
             "M0,0L1.11,0M1.16,-0.18H3.04Q3.09,-0.18 3.09,-0.13V0.13Q3.09,0.18 3.04,0.18H1.16Q1.11,0.18 1.11,0.13V-0.13Q1.11,-0.18 1.16,-0.18Z",
             "M0,0L1.11,0M1.16,-0.18H3.04Q3.09,-0.18 3.09,-0.13V0.13Q3.09,0.18 3.04,0.18H1.16Q1.11,0.18 1.11,0.13V-0.13Q1.11,-0.18 1.16,-0.18Z",
             "M0,0L0.34,0M0.39,-0.18H3.04Q3.09,-0.18 3.09,-0.13V0.13Q3.09,0.18 3.04,0.18H0.39Q0.34,0.18 0.34,0.13V-0.13Q0.34,-0.18 0.39,-0.18Z",
             "M0,0L1.01,0M1.06,-0.18H3.04Q3.09,-0.18 3.09,-0.13V0.13Q3.09,0.18 3.04,0.18H1.06Q1.01,0.18 1.01,0.13V-0.13Q1.01,-0.18 1.06,-0.18Z",
             "M0,0L2.05,-0.06M2.1,-0.24H2.8Q2.85,-0.24 2.85,-0.19V0.07Q2.85,0.12 2.8,0.12H2.1Q2.05,0.12 2.05,0.07V-0.19Q2.05,-0.24 2.1,-0.24Z",
             "M0,0L1.89,-0.09M1.94,-0.27H2.97Q3.02,-0.27 3.02,-0.22V0.04Q3.02,0.09 2.97,0.09H1.94Q1.89,0.09 1.89,0.04V-0.22Q1.89,-0.27 1.94,-0.27Z",
             "M0,0L1.91,0.27M1.96,0.09H2.95Q3,0.09 3,0.14V0.4Q3,0.45 2.95,0.45H1.96Q1.91,0.45 1.91,0.4V0.14Q1.91,0.09 1.96,0.09Z",
             "M0,0L1.91,0M1.96,-0.18H2.95Q3,-0.18 3,-0.13V0.13Q3,0.18 2.95,0.18H1.96Q1.91,0.18 1.91,0.13V-0.13Q1.91,-0.18 1.96,-0.18Z"
           ]}, "legend": null},
           "stroke": {"field": "metric", "type": "nominal", "scale": {"domain": ["Defensive Action", "Long Distribution", "Possession Involvement", "Passing Accuracy", "Shots", "Crossing", "Creation", "Carrying"], "range": ["#6c63b5", "#66a61e", "#a0701c", "#e6ab02", "#4d4d4d", "#d95f02", "#1b9e77", "#6e6e6e"]}, "legend": null}
         }},
        {"mark": {"type": "point", "filled": true, "size": 200, "opacity": 1},
         "encoding": {"color": {"field": "metric", "type": "nominal", "scale": {"domain": ["Defensive Action", "Long Distribution", "Possession Involvement", "Passing Accuracy", "Shots", "Crossing", "Creation", "Carrying"], "range": ["#6c63b5", "#66a61e", "#a0701c", "#e6ab02", "#4d4d4d", "#d95f02", "#1b9e77", "#6e6e6e"]}, "legend": null}}},
        {"transform": [{"filter": "indexof(['Defensive Action','Long Distribution','Possession Involvement','Passing Accuracy'], datum.metric) >= 0"}], "mark": {"type": "text", "align": "right", "dx": 298, "font": "Liberation Sans", "fontSize": 23.5}, "encoding": {"text": {"field": "metric"}, "color": {"field": "metric", "type": "nominal"}}},
        {"transform": [{"filter": "datum.metric == 'Shots'"}], "mark": {"type": "text", "align": "right", "dx": 274, "dy": -6, "font": "Liberation Sans", "fontSize": 23.5}, "encoding": {"text": {"field": "metric"}, "color": {"field": "metric", "type": "nominal"}}},
        {"transform": [{"filter": "datum.metric == 'Crossing'"}], "mark": {"type": "text", "align": "right", "dx": 291, "dy": -9, "font": "Liberation Sans", "fontSize": 23.5}, "encoding": {"text": {"field": "metric"}, "color": {"field": "metric", "type": "nominal"}}},
        {"transform": [{"filter": "datum.metric == 'Creation'"}], "mark": {"type": "text", "align": "right", "dx": 289, "dy": 27, "font": "Liberation Sans", "fontSize": 23.5}, "encoding": {"text": {"field": "metric"}, "color": {"field": "metric", "type": "nominal"}}},
        {"transform": [{"filter": "datum.metric == 'Carrying'"}], "mark": {"type": "text", "align": "right", "dx": 289, "font": "Liberation Sans", "fontSize": 23.5}, "encoding": {"text": {"field": "metric"}, "color": {"field": "metric", "type": "nominal"}}}
      ]
    },
    {
      "width": 760, "height": 422,
      "title": {"text": "Similar Players", "fontSize": 35, "offset": 16, "dx": 136},
      "data": {"name": "similar"},
      "encoding": {
        "y": {"field": "name", "type": "nominal", "sort": null, "scale": {"paddingInner": 0.45, "paddingOuter": 0.24}, "axis": {"title": null, "ticks": false, "domain": false, "offset": -179, "labelFontSize": 27.5, "labelColor": "black", "labelPadding": 4, "labelLineHeight": 30, "labelExpr": "split(datum.label, '|')"}},
        "x": {"field": "sim", "type": "quantitative", "scale": {"domain": [-0.405, 1], "nice": false}, "axis": null}
      },
      "layer": [
        {"mark": {"type": "bar", "stroke": "black", "strokeWidth": 3}, "encoding": {"color": {"field": "sim", "type": "quantitative", "scale": {"domain": [0.965, 0.988], "range": ["#f98c85", "#ff7e88"]}, "legend": null}}},
        {"mark": {"type": "point", "shape": "M-0.68,-0.36H0.68Q0.8,-0.36 0.8,-0.24V0.24Q0.8,0.36 0.68,0.36H-0.68Q-0.8,0.36 -0.8,0.24V-0.24Q-0.8,-0.36 -0.68,-0.36Z", "size": 10000, "filled": true, "fill": "white", "stroke": "black", "strokeWidth": 1.5, "opacity": 1}},
        {"mark": {"type": "text", "fontSize": 23}, "encoding": {"text": {"field": "sim", "format": ".1%"}}}
      ]
    }
  ],
  "spacing": 55
}
],
"spacing": 60
},
{
  "width": 2900, "height": 240,
  "data": {"name": "notes"},
  "mark": {"type": "text", "align": "left", "baseline": "middle", "fontSize": 28, "fontStyle": "italic"},
  "encoding": {
    "y": {"field": "line", "type": "nominal", "sort": null, "scale": {"paddingInner": 0, "paddingOuter": 0}, "axis": null},
    "x": {"datum": 0, "type": "quantitative", "scale": {"domain": [0.00446, 1], "nice": false}, "axis": null},
    "text": {"field": "line"}
  }
}
],
"spacing": 33
}
